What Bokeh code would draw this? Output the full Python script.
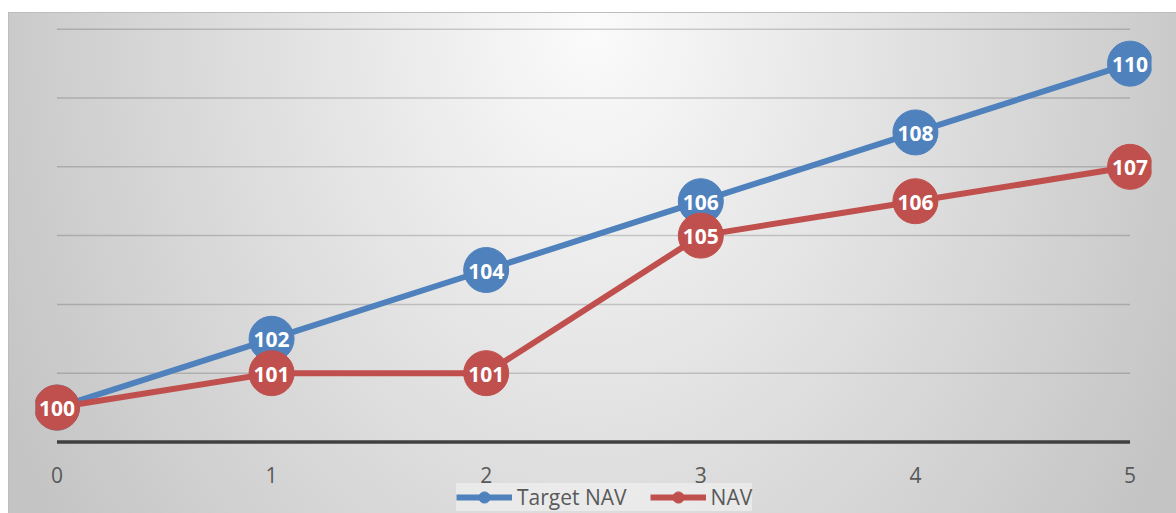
from bokeh.plotting import figure
from bokeh.models import ColumnDataSource, Range1d, Legend, LegendItem
from bokeh.core.properties import value
from bokeh.embed import file_html
from bokeh.resources import INLINE

# ---- data ----
x_vals = [0, 1, 2, 3, 4, 5]
target_nav = [100, 102, 104, 106, 108, 110]
nav = [100, 101, 101, 105, 106, 107]
tick_labels = ["0", "1", "2", "3", "4", "5"]
grid_values = [101, 103, 105, 107, 109, 111]
axis_value = 99

BLUE = "#4f81bd"
RED = "#c0504d"
FONT = "Open Sans"

p = figure(width=1168, height=501, output_backend="svg", toolbar_location=None,
           x_range=Range1d(-0.1, 5.1), y_range=Range1d(96.92, 111.4),
           x_axis_location=None, y_axis_location=None,
           min_border_left=27, min_border_right=25, min_border_top=3, min_border_bottom=0)
p.margin = (12, 0, 0, 8)
p.border_fill_color = None
p.background_fill_color = None
p.outline_line_color = None
p.styles = {
    "background": "radial-gradient(ellipse 660px 880px at 50% 2%, #fbfbfb 0%, #c4c4c4 100%)",
    "box-shadow": "inset 1px 1px 0 #bdbdbd",
}
p.xgrid.visible = False
p.ygrid.visible = False

# gridlines and base axis line
n = len(grid_values)
p.segment(x0=[x_vals[0]] * n, x1=[x_vals[-1]] * n, y0=grid_values, y1=grid_values,
          line_color="black", line_alpha=0.17, line_width=1.5)
p.segment(x0=[x_vals[0]], x1=[x_vals[-1]], y0=[axis_value], y1=[axis_value],
          line_color="#404040", line_width=3.5)

# category (x) tick labels under the base line
p.text(x=x_vals, y=[axis_value] * len(x_vals), text=tick_labels, y_offset=33,
       text_font=value(FONT), text_font_size="21px", text_color="#595959",
       text_align="center", text_baseline="middle")

src_t = ColumnDataSource(dict(x=x_vals, y=target_nav, lab=[str(v) for v in target_nav]))
src_n = ColumnDataSource(dict(x=x_vals, y=nav, lab=[str(v) for v in nav]))

bl = p.line("x", "y", source=src_t, line_color=BLUE, line_width=6)
rl = p.line("x", "y", source=src_n, line_color=RED, line_width=6)
bs = p.scatter("x", "y", source=src_t, size=45, fill_color=BLUE, line_color=BLUE)
p.text("x", "y", text="lab", source=src_t, text_color="white", text_font=value(FONT),
       text_font_style="bold", text_font_size="21px", text_align="center",
       text_baseline="middle", y_offset=1)
rs = p.scatter("x", "y", source=src_n, size=45, fill_color=RED, line_color=RED)
p.text("x", "y", text="lab", source=src_n, text_color="white", text_font=value(FONT),
       text_font_style="bold", text_font_size="21px", text_align="center",
       text_baseline="middle", y_offset=1)

legend = Legend(items=[LegendItem(label="Target NAV", renderers=[bl, bs]),
                       LegendItem(label="NAV", renderers=[rl, rs])],
                orientation="horizontal", location=(421, 2), margin=0,
                glyph_width=56, glyph_height=28, padding=10, spacing=23, label_standoff=5,
                label_text_font=FONT, label_text_font_size="21px", label_text_color="#595959",
                background_fill_color="white", background_fill_alpha=0.4,
                border_line_color=None)
p.add_layout(legend, "center")

open("out.html", "w").write(file_html(p, INLINE))
